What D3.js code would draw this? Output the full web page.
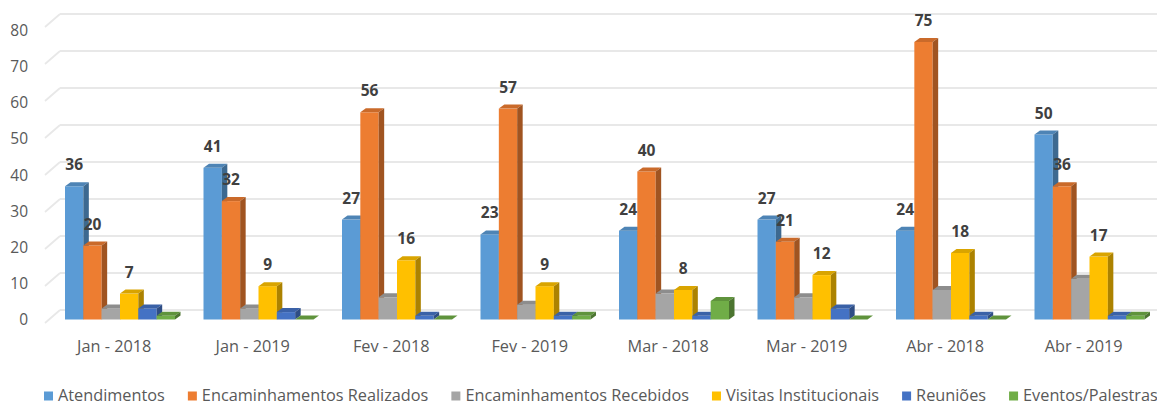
<!DOCTYPE html>
<html>
<head>
<meta charset="utf-8">
<script src="https://cdn.jsdelivr.net/npm/d3@7"></script>
<style>
  html, body { margin: 0; padding: 0; background: #fff; }
  svg { display: block; }
</style>
</head>
<body>
<svg id="chart" width="1157" height="406"></svg>
<script>
const categories = ["Jan - 2018", "Jan - 2019", "Fev - 2018", "Fev - 2019", "Mar - 2018", "Mar - 2019", "Abr - 2018", "Abr - 2019"];
const seriesNames = ["Atendimentos", "Encaminhamentos Realizados", "Encaminhamentos Recebidos", "Visitas Institucionais", "Reuniões", "Eventos/Palestras"];
const atendimentos = [36, 41, 27, 23, 24, 27, 24, 50];
const encRealizados = [20, 32, 56, 57, 40, 21, 75, 36];
const encRecebidos = [3, 3, 6, 4, 7, 6, 8, 11];
const visitas = [7, 9, 16, 9, 8, 12, 18, 17];
const reunioes = [3, 2, 1, 1, 1, 3, 1, 1];
const eventos = [1, 0, 0, 1, 5, 0, 0, 1];
const seriesColors = ["#5b9bd5", "#ed7d31", "#a5a5a5", "#ffc000", "#4472c4", "#70ad47"];
const labeledSeries = [true, true, false, true, false, false];
const yTicks = [0, 10, 20, 30, 40, 50, 60, 70, 80];

const seriesValues = [atendimentos, encRealizados, encRecebidos, visitas, reunioes, eventos];

const svg = d3.select("#chart");
const W = 1157;

const x = d3.scaleBand().domain(categories).range([45, 1153]);
const xs = d3.scaleBand().domain(seriesNames).range([0, 110]);
const clusterOffset = 20;
const y = d3.scaleLinear().domain([0, 80]).range([319.5, 23.5]);
const yLab = d3.scaleLinear().domain([0, 80]).range([320, 30.5]);

const wallDx = 15, wallDyFront = 3.5, wallDyBack = -9.5;
const barDx = 5.5, barDy = -4;

// gridlines (walls)
const grid = svg.append("g");
yTicks.forEach(v => {
  grid.append("line")
    .attr("x1", 45).attr("y1", y(v) + wallDyFront)
    .attr("x2", 45 + wallDx).attr("y2", y(v) + wallDyBack)
    .attr("stroke", "#e8e8e8").attr("stroke-width", 1.8);
  grid.append("line")
    .attr("x1", 45 + wallDx).attr("y1", y(v) + wallDyBack)
    .attr("x2", W).attr("y2", y(v) + wallDyBack)
    .attr("stroke", "#e8e8e8").attr("stroke-width", 1.8);
});

// y tick labels
svg.append("g").selectAll("text").data(yTicks).join("text")
  .attr("x", 28).attr("y", d => yLab(d))
  .attr("dy", "0.35em")
  .attr("text-anchor", "end")
  .attr("font-family", "'Open Sans', sans-serif")
  .attr("font-size", 15.5)
  .attr("fill", "#595959")
  .text(d => d);

// bars
const bars = svg.append("g");
categories.forEach((c, ci) => {
  seriesNames.forEach((s, si) => {
    const v = seriesValues[si][ci];
    const x0 = x(c) + clusterOffset + xs(s);
    const w = xs.bandwidth();
    const y0 = y(0), y1 = y(v);
    const col = d3.color(seriesColors[si]);
    const g = bars.append("g");
    g.append("rect").attr("x", x0).attr("y", y1).attr("width", w).attr("height", y0 - y1)
      .attr("fill", col.formatHex());
    g.append("path")
      .attr("d", `M${x0},${y1}L${x0 + barDx},${y1 + barDy}L${x0 + w + barDx},${y1 + barDy}L${x0 + w},${y1}Z`)
      .attr("fill", col.darker(0.45).formatHex());
    g.append("path")
      .attr("d", `M${x0 + w},${y1}L${x0 + w + barDx},${y1 + barDy}L${x0 + w + barDx},${y0 + barDy}L${x0 + w},${y0}Z`)
      .attr("fill", col.darker(1.1).formatHex());
  });
});

// value labels
const labels = svg.append("g");
categories.forEach((c, ci) => {
  seriesNames.forEach((s, si) => {
    if (!labeledSeries[si]) return;
    const v = seriesValues[si][ci];
    labels.append("text")
      .attr("x", x(c) + clusterOffset + xs(s) + xs.bandwidth() / 2)
      .attr("y", y(v) - 16)
      .attr("text-anchor", "middle")
      .attr("font-family", "'Open Sans', sans-serif")
      .attr("font-weight", "bold")
      .attr("font-size", 15.5)
      .attr("fill", "#404040")
      .text(v);
  });
});

// category labels
svg.append("g").selectAll("text").data(categories).join("text")
  .attr("x", d => x(d) + x.bandwidth() / 2)
  .attr("y", 346).attr("dy", "0.35em")
  .attr("text-anchor", "middle")
  .attr("font-family", "'Open Sans', sans-serif")
  .attr("font-size", 16.3)
  .attr("fill", "#595959")
  .text(d => d);

// legend
const legend = svg.append("g");
let lx = 44;
seriesNames.forEach((s, si) => {
  legend.append("rect").attr("x", lx).attr("y", 391.5).attr("width", 9).attr("height", 9)
    .attr("fill", seriesColors[si]);
  const t = legend.append("text").attr("x", lx + 14).attr("y", 401)
    .attr("font-family", "'Open Sans', sans-serif")
    .attr("font-size", 16.3)
    .attr("fill", "#595959")
    .text(s);
  lx += 14 + t.node().getComputedTextLength() + 23;
});
</script>
</body>
</html>
